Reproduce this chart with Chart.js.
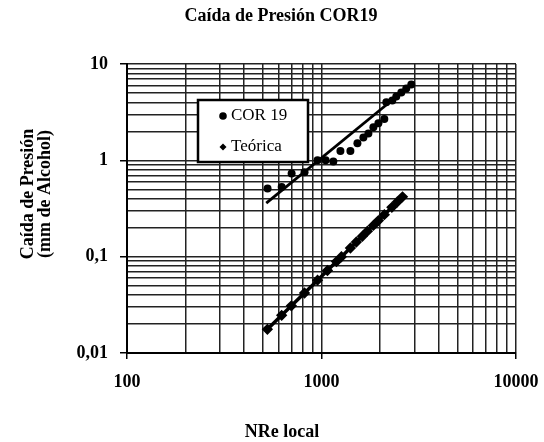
<!DOCTYPE html>
<html><head><meta charset="utf-8">
<script src="https://cdn.jsdelivr.net/npm/chart.js@4/dist/chart.umd.min.js"></script>
<style>html,body{margin:0;padding:0;background:#fff}</style>
</head><body>
<canvas id="c" width="544" height="442"></canvas>
<script>
const chartTitle = 'Caída de Presión COR19';
const xAxisTitle = 'NRe local';
const yAxisTitle = ['Caída de Presión', '(mm de Alcohol)'];
const seriesNames = ['COR 19', 'Teórica'];

// COR 19 measured points
const corX = [528, 624, 702, 818, 954, 1050, 1150, 1251, 1408, 1530, 1642, 1742, 1848, 1961, 2104, 2154, 2312, 2424, 2572, 2728, 2895];
const corY = [0.51, 0.53, 0.73, 0.75, 1.0, 1.0, 0.97, 1.25, 1.25, 1.50, 1.73, 1.90, 2.20, 2.43, 2.69, 4.0, 4.19, 4.6, 5.06, 5.57, 6.13];
// COR 19 trend line end points
const corFitX = [520, 3000];
const corFitY = [0.36, 6.5];
// Teórica
const teoX = [527, 624, 700, 818, 954, 1073, 1194, 1266, 1408, 1511, 1623, 1722, 1848, 1961, 2104, 2300, 2450, 2610];
const teoY = [0.0176, 0.0246, 0.0309, 0.0420, 0.0570, 0.0719, 0.0889, 0.0998, 0.123, 0.142, 0.163, 0.184, 0.211, 0.237, 0.273, 0.325, 0.369, 0.418];

const xTickValues = [100, 1000, 10000];
const xTickLabels = ['100', '1000', '10000'];
const yTickValues = [0.01, 0.1, 1, 10];
const yTickLabels = ['0,01', '0,1', '1', '10'];

function gridValues(majors) {
  const out = [];
  for (let i = 0; i < majors.length - 1; i++) {
    for (let k = 1; k < 10; k++) out.push(majors[i] * k);
  }
  out.push(majors[majors.length - 1]);
  return out;
}
function isMajor(v, majors) {
  return majors.some(m => Math.abs(v - m) / m < 1e-6);
}
function labelFor(v, majors, labels) {
  const i = majors.findIndex(m => Math.abs(v - m) / m < 1e-6);
  return i >= 0 ? labels[i] : '';
}

const FONT = "'Liberation Serif', 'Times New Roman', serif";
const AXIS_L = 127, AXIS_T = 64, AXIS_R = 516, AXIS_B = 353;

const textPlugin = {
  id: 'textPlugin',
  afterDraw(chart) {
    const ctx = chart.ctx;
    ctx.save();
    ctx.fillStyle = '#000';
    ctx.textAlign = 'center';
    ctx.textBaseline = 'middle';
    ctx.font = 'bold 18px ' + FONT;
    ctx.fillText(chartTitle, 281, 16);
    ctx.fillText(xAxisTitle, 282, 432);
    ctx.save();
    ctx.translate(28, 194);
    ctx.rotate(-Math.PI / 2);
    ctx.fillText(yAxisTitle[0], 0, 0);
    ctx.restore();
    ctx.save();
    ctx.translate(45, 194);
    ctx.rotate(-Math.PI / 2);
    ctx.fillText(yAxisTitle[1], 0, 0);
    ctx.restore();

    // legend box
    const bx = 198, by = 100, bw = 110, bh = 62;
    ctx.fillStyle = '#fff';
    ctx.fillRect(bx, by, bw, bh);
    ctx.strokeStyle = '#000';
    ctx.lineWidth = 2.5;
    ctx.strokeRect(bx, by, bw, bh);
    ctx.fillStyle = '#000';
    ctx.beginPath();
    ctx.arc(223, 116, 3.8, 0, Math.PI * 2);
    ctx.fill();
    ctx.beginPath();
    ctx.moveTo(223, 143.5); ctx.lineTo(226.5, 147); ctx.lineTo(223, 150.5); ctx.lineTo(219.5, 147);
    ctx.closePath();
    ctx.fill();
    ctx.textAlign = 'left';
    ctx.font = '17px ' + FONT;
    ctx.fillText(seriesNames[0], 231, 116);
    ctx.fillText(seriesNames[1], 231, 147);
    ctx.restore();
  }
};

new Chart(document.getElementById('c'), {
  type: 'scatter',
  data: {
    datasets: [
      {
        label: seriesNames[0],
        data: corX.map((x, i) => ({ x, y: corY[i] })),
        showLine: false,
        pointStyle: 'circle',
        pointRadius: 4,
        backgroundColor: '#000',
        borderColor: '#000',
        borderWidth: 0
      },
      {
        label: seriesNames[0] + ' ajuste',
        data: corFitX.map((x, i) => ({ x, y: corFitY[i] })),
        showLine: true,
        pointRadius: 0,
        borderColor: '#000',
        borderWidth: 2.8
      },
      {
        label: seriesNames[1],
        data: teoX.map((x, i) => ({ x, y: teoY[i] })),
        showLine: true,
        pointStyle: 'rectRot',
        pointRadius: 3.2,
        backgroundColor: '#000',
        borderColor: '#000',
        borderWidth: 3.5
      }
    ]
  },
  options: {
    responsive: false,
    animation: false,
    devicePixelRatio: 1,
    layout: { padding: { top: AXIS_T, right: 544 - AXIS_R, left: 0, bottom: 0 } },
    plugins: { legend: { display: false }, title: { display: false }, tooltip: { enabled: false } },
    scales: {
      x: {
        type: 'logarithmic',
        min: 100, max: 10000,
        afterBuildTicks: s => { s.ticks = gridValues(xTickValues).map(v => ({ value: v })); },
        afterFit: s => { s.height = 442 - AXIS_B; s.paddingLeft = 0; s.paddingRight = 0; },
        border: { color: '#000', width: 2 },
        grid: {
          color: '#222', lineWidth: 1.5,
          tickLength: 6,
          tickColor: c => (c.tick && isMajor(c.tick.value, xTickValues)) ? '#000' : 'rgba(0,0,0,0)'
        },
        ticks: {
          autoSkip: false, maxRotation: 0, minRotation: 0,
          padding: 13,
          color: '#000',
          font: { family: FONT, size: 18, weight: 'bold' },
          callback: v => labelFor(v, xTickValues, xTickLabels)
        }
      },
      y: {
        type: 'logarithmic',
        min: 0.01, max: 10,
        afterBuildTicks: s => { s.ticks = gridValues(yTickValues).map(v => ({ value: v })); },
        afterFit: s => { s.width = AXIS_L; s.paddingTop = 0; s.paddingBottom = 0; },
        border: { color: '#000', width: 2 },
        grid: {
          color: '#222', lineWidth: 1.5,
          tickLength: 7,
          tickColor: c => (c.tick && isMajor(c.tick.value, yTickValues)) ? '#000' : 'rgba(0,0,0,0)'
        },
        ticks: {
          autoSkip: false,
          padding: 12,
          color: '#000',
          font: { family: FONT, size: 18, weight: 'bold' },
          callback: v => labelFor(v, yTickValues, yTickLabels)
        }
      }
    }
  },
  plugins: [textPlugin]
});
</script>
</body></html>
